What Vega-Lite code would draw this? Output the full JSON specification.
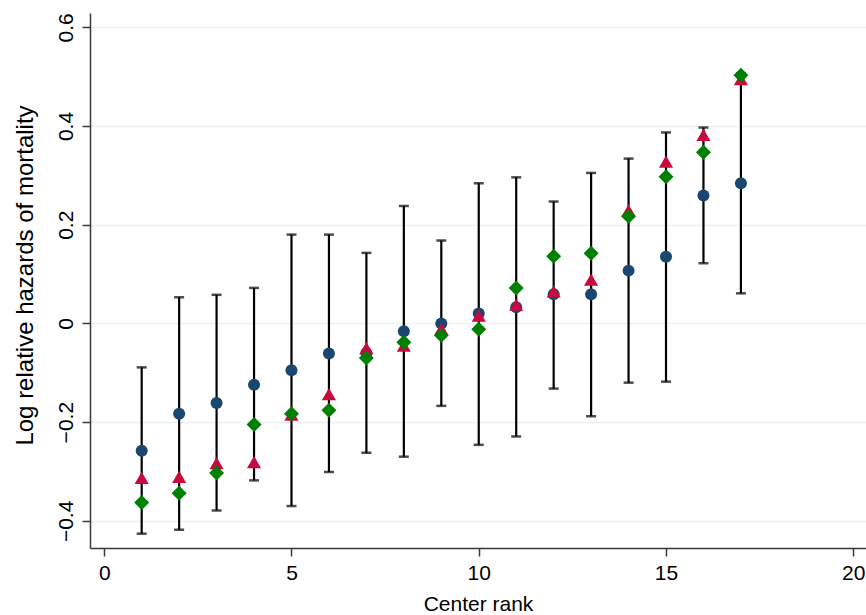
{
  "$schema": "https://vega.github.io/schema/vega-lite/v6.json",
  "width": 776,
  "height": 535,
  "autosize": {"type": "none"},
  "padding": {"left": 90, "top": 13, "right": 0, "bottom": 67},
  "background": "white",
  "config": {
    "view": {"stroke": null},
    "font": "Liberation Sans",
    "axis": {
      "domainColor": "#3a3a3a",
      "domainWidth": 1.5,
      "tickColor": "#3a3a3a",
      "tickWidth": 1.5,
      "tickSize": 8,
      "labelFont": "Liberation Sans",
      "titleFont": "Liberation Sans",
      "labelColor": "black",
      "titleColor": "black",
      "titleFontWeight": "normal",
      "labelFontSize": 21,
      "titleFontSize": 21
    }
  },
  "data": {
    "values": [
      {"rank": 1, "b": -0.258, "r": -0.313, "g": -0.363, "lo": -0.426, "hi": -0.089},
      {"rank": 2, "b": -0.183, "r": -0.311, "g": -0.344, "lo": -0.418, "hi": 0.053},
      {"rank": 3, "b": -0.161, "r": -0.283, "g": -0.303, "lo": -0.379, "hi": 0.058},
      {"rank": 4, "b": -0.124, "r": -0.281, "g": -0.205, "lo": -0.318, "hi": 0.072},
      {"rank": 5, "b": -0.095, "r": -0.185, "g": -0.183, "lo": -0.370, "hi": 0.180},
      {"rank": 6, "b": -0.061, "r": -0.143, "g": -0.176, "lo": -0.301, "hi": 0.180},
      {"rank": 7, "b": -0.060, "r": -0.050, "g": -0.070, "lo": -0.262, "hi": 0.143},
      {"rank": 8, "b": -0.016, "r": -0.045, "g": -0.038, "lo": -0.270, "hi": 0.238},
      {"rank": 9, "b": 0.000, "r": -0.011, "g": -0.024, "lo": -0.167, "hi": 0.168},
      {"rank": 10, "b": 0.020, "r": 0.016, "g": -0.012, "lo": -0.246, "hi": 0.284},
      {"rank": 11, "b": 0.033, "r": 0.038, "g": 0.072, "lo": -0.229, "hi": 0.296},
      {"rank": 12, "b": 0.059, "r": 0.065, "g": 0.136, "lo": -0.132, "hi": 0.247},
      {"rank": 13, "b": 0.059, "r": 0.089, "g": 0.142, "lo": -0.188, "hi": 0.305},
      {"rank": 14, "b": 0.107, "r": 0.229, "g": 0.217, "lo": -0.120, "hi": 0.334},
      {"rank": 15, "b": 0.135, "r": 0.328, "g": 0.297, "lo": -0.118, "hi": 0.387},
      {"rank": 16, "b": 0.259, "r": 0.382, "g": 0.347, "lo": 0.122, "hi": 0.397},
      {"rank": 17, "b": 0.284, "r": 0.495, "g": 0.503, "lo": 0.061, "hi": 0.507}
    ]
  },
  "encoding": {
    "x": {
      "field": "rank",
      "type": "quantitative",
      "scale": {"domain": [-0.38, 20.34], "nice": false, "zero": false},
      "axis": {
        "values": [0, 5, 10, 15, 20],
        "grid": false,
        "title": "Center rank",
        "labelFontSize": 21,
        "labelBaseline": "alphabetic",
        "labelPadding": 23,
        "titleFontSize": 21,
        "titleBaseline": "alphabetic",
        "titleY": 62
      }
    }
  },
  "layer": [
    {
      "mark": {"type": "rule", "color": "black", "strokeWidth": 2.2},
      "encoding": {
        "y": {
          "field": "lo",
          "type": "quantitative",
          "scale": {"domain": [-0.455, 0.629], "nice": false, "zero": false},
          "axis": {
            "values": [-0.4, -0.2, 0, 0.2, 0.4, 0.6],
            "format": "~g",
            "grid": true,
            "gridColor": "#eaf2f3",
            "gridWidth": 1.5,
            "labelAngle": -90,
            "labelAlign": "center",
            "labelBaseline": "alphabetic",
            "labelPadding": 10,
            "labelFontSize": 21,
            "labelExpr": "replace(datum.label, '-', '−')",
            "title": "Log relative hazards of mortality",
            "titleFontSize": 24,
            "titleBaseline": "alphabetic",
            "titleX": -58,
            "titleY": 262
          }
        },
        "y2": {"field": "hi"}
      }
    },
    {
      "mark": {"type": "tick", "orient": "horizontal", "color": "black", "size": 10, "thickness": 2.5},
      "encoding": {"y": {"field": "lo", "type": "quantitative"}}
    },
    {
      "mark": {"type": "tick", "orient": "horizontal", "color": "black", "size": 10, "thickness": 2.5},
      "encoding": {"y": {"field": "hi", "type": "quantitative"}}
    },
    {
      "mark": {"type": "point", "shape": "circle", "filled": true, "opacity": 1, "color": "#1a476f", "size": 144},
      "encoding": {"y": {"field": "b", "type": "quantitative"}}
    },
    {
      "mark": {"type": "point", "shape": "triangle-up", "filled": true, "opacity": 1, "color": "#c8093d", "size": 200},
      "encoding": {"y": {"field": "r", "type": "quantitative"}}
    },
    {
      "mark": {"type": "point", "shape": "diamond", "filled": true, "opacity": 1, "color": "#008000", "size": 225},
      "encoding": {"y": {"field": "g", "type": "quantitative"}}
    }
  ]
}
